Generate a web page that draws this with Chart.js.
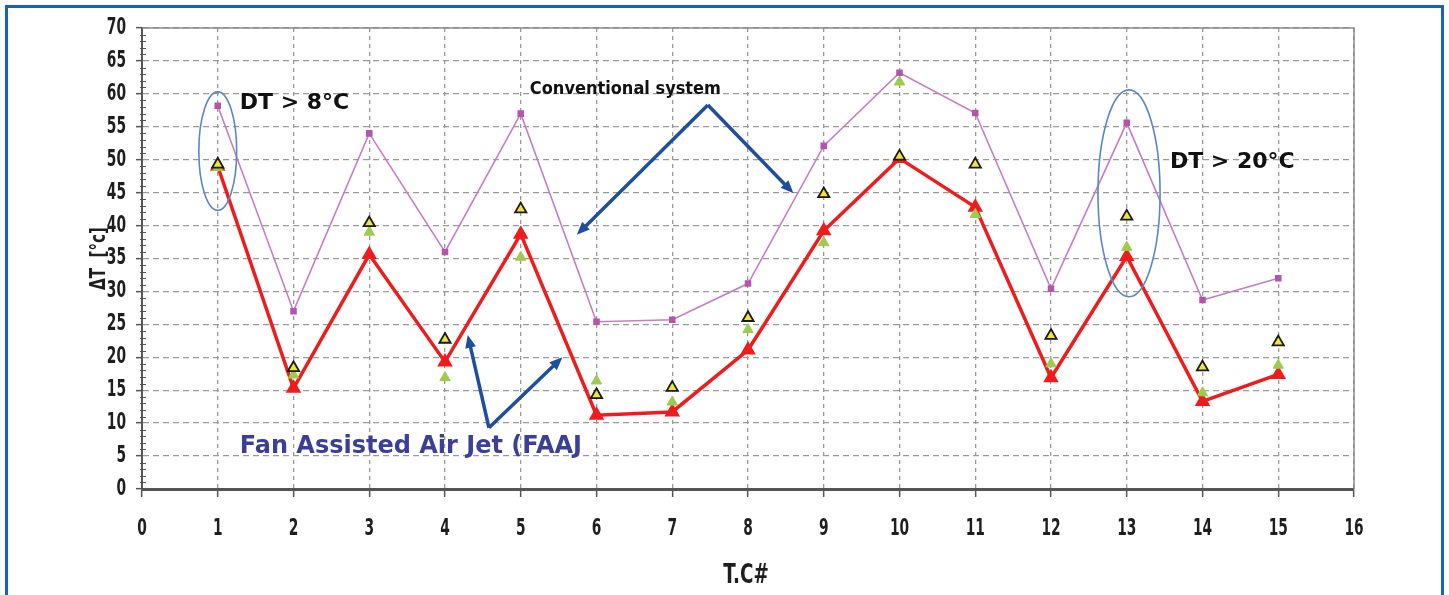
<!DOCTYPE html>
<html>
<head>
<meta charset="utf-8">
<script src="https://cdn.jsdelivr.net/npm/chart.js@4.4.0/dist/chart.umd.min.js"></script>
<style>
body { margin: 0; background: #fff; }
#wrap { position: relative; width: 1449px; height: 595px; overflow: hidden; }
#frame { position: absolute; left: 5px; top: 5px; width: 1433px; height: 620px; border: 3px solid #1a63b5; pointer-events: none; }
</style>
</head>
<body>
<div id="wrap">
  <canvas id="myChart" width="1449" height="595"></canvas>
  <div id="frame"></div>
</div>
<script>
// thermocouple numbers
const tc_labels = [1, 2, 3, 4, 5, 6, 7, 8, 9, 10, 11, 12, 13, 14, 15];
// conventional system (pink)
const conventional = [58.2, 27.0, 54.0, 36.0, 57.0, 25.4, 25.7, 31.2, 52.1, 63.2, 57.1, 30.4, 55.6, 28.7, 32.0];
// fan assisted air jet (red)
const faaj = [49.0, 15.3, 35.6, 19.3, 38.7, 11.2, 11.7, 21.1, 39.2, 50.2, 42.8, 16.9, 35.3, 13.3, 17.4];
// extra marker series (yellow / green triangles)
const yellow_tri = [49.3, 18.4, 40.4, 22.7, 42.5, 14.3, 15.4, 26.0, 44.8, 50.5, 49.3, 23.3, 41.4, 18.5, 22.3];
const green_tri = [48.8, 17.3, 39.0, 16.9, 35.2, 16.4, 13.2, 24.2, 37.4, 61.8, 41.7, 19.0, 36.7, 14.6, 18.8];
const y_ticks_max = 70;
const x_ticks_max = 16;
const x_title = 'T.C#';
const y_title = 'ΔT  [°c]';

function to_points(arr) {
    let out = Array();
    arr.forEach((v, i) => { out.push({x: tc_labels[i], y: v}); });
    return out;
}

// annotations in data coordinates
const ellipses = [
    {cx: 1.0, cy: 51.3, rx: 0.25, ry: 9.0},
    {cx: 13.03, cy: 44.9, rx: 0.41, ry: 15.7}
];
const arrows = [
    {from: [7.47, 58.3], to: [5.74, 38.6]},
    {from: [7.47, 58.3], to: [8.6, 44.9]},
    {from: [4.58, 9.3], to: [4.3, 23.4]},
    {from: [4.58, 9.3], to: [5.55, 20.0]}
];
const notes = [
    {text: 'DT > 8°C', x: 1.29, y: 58.6, font: 'bold 22px "DejaVu Sans"', color: '#111'},
    {text: 'Conventional system', x: 5.12, y: 60.7, font: 'bold 18px "DejaVu Sans Condensed"', color: '#111'},
    {text: 'Fan Assisted Air Jet (FAAJ', x: 1.29, y: 6.4, font: 'bold 24px "DejaVu Sans"', color: '#3b3f98'},
    {text: 'DT > 20°C', x: 13.57, y: 49.6, font: 'bold 22px "DejaVu Sans"', color: '#111'}
];

// condensed text: draw with horizontal squeeze
function squeezed(ctx, text, x, y, sx, align, rot) {
    ctx.save();
    ctx.translate(x, y);
    if (rot) ctx.rotate(rot);
    ctx.scale(sx, 1);
    ctx.textAlign = align;
    ctx.textBaseline = 'middle';
    ctx.fillText(text, 0, 0);
    ctx.restore();
}

const extrasPlugin = {
    id: 'extras',
    beforeDatasetsDraw(chart) {
        const ctx = chart.ctx;
        const a = chart.chartArea;
        const ys = chart.scales.y;
        ctx.save();
        // top and right frame of plot
        ctx.strokeStyle = '#8a8a8a';
        ctx.lineWidth = 1.5;
        ctx.beginPath();
        ctx.moveTo(a.left, a.top);
        ctx.lineTo(a.right, a.top);
        ctx.lineTo(a.right, a.bottom);
        ctx.stroke();
        // minor ticks on y axis
        ctx.strokeStyle = '#555';
        ctx.lineWidth = 1;
        for (let v = 0; v <= y_ticks_max; v++) {
            if (v % 5 === 0) continue;
            let py = Math.round(ys.getPixelForValue(v)) + 0.5;
            ctx.beginPath();
            ctx.moveTo(a.left - 2, py);
            ctx.lineTo(a.left + 4, py);
            ctx.stroke();
        }
        ctx.restore();
    },
    afterDatasetsDraw(chart) {
        const ctx = chart.ctx;
        const xs = chart.scales.x, ys = chart.scales.y;
        const a = chart.chartArea;
        ctx.save();
        // ellipses
        ctx.strokeStyle = '#5b87c5';
        ctx.lineWidth = 1.6;
        ellipses.forEach(e => {
            let cx = xs.getPixelForValue(e.cx), cy = ys.getPixelForValue(e.cy);
            let rx = xs.getPixelForValue(e.cx + e.rx) - cx;
            let ry = cy - ys.getPixelForValue(e.cy + e.ry);
            ctx.beginPath();
            ctx.ellipse(cx, cy, rx, ry, 0, 0, Math.PI * 2);
            ctx.stroke();
        });
        // arrows
        ctx.strokeStyle = '#1f4e9e';
        ctx.fillStyle = '#1f4e9e';
        ctx.lineWidth = 3.5;
        arrows.forEach(ar => {
            let x1 = xs.getPixelForValue(ar.from[0]), y1 = ys.getPixelForValue(ar.from[1]);
            let x2 = xs.getPixelForValue(ar.to[0]), y2 = ys.getPixelForValue(ar.to[1]);
            let ang = Math.atan2(y2 - y1, x2 - x1);
            let hl = 14;
            ctx.beginPath();
            ctx.moveTo(x1, y1);
            ctx.lineTo(x2 - Math.cos(ang) * hl * 0.7, y2 - Math.sin(ang) * hl * 0.7);
            ctx.stroke();
            ctx.beginPath();
            ctx.moveTo(x2, y2);
            ctx.lineTo(x2 - hl * Math.cos(ang - 0.4), y2 - hl * Math.sin(ang - 0.4));
            ctx.lineTo(x2 - hl * Math.cos(ang + 0.4), y2 - hl * Math.sin(ang + 0.4));
            ctx.closePath();
            ctx.fill();
        });
        // text notes
        ctx.textBaseline = 'middle';
        ctx.textAlign = 'left';
        notes.forEach(n => {
            ctx.font = n.font;
            ctx.fillStyle = n.color;
            ctx.fillText(n.text, xs.getPixelForValue(n.x), ys.getPixelForValue(n.y));
        });

        // axis labels, condensed like the original
        ctx.fillStyle = '#1e1e1e';
        ctx.font = 'bold 23px "DejaVu Sans"';
        ys.ticks.forEach(t => {
            squeezed(ctx, String(t.value), a.left - 16, ys.getPixelForValue(t.value), 0.6, 'right');
        });
        xs.ticks.forEach(t => {
            squeezed(ctx, String(t.value), xs.getPixelForValue(t.value), 529, 0.6, 'center');
        });
        ctx.font = 'bold 27px "DejaVu Sans"';
        squeezed(ctx, x_title, (a.left + a.right) / 2 - 2, 576, 0.68, 'center');
        ctx.font = 'bold 21px "DejaVu Sans"';
        squeezed(ctx, y_title, 100, (a.top + a.bottom) / 2, 0.72, 'center', -Math.PI / 2);
        ctx.restore();
    }
};

let ctx = document.getElementById('myChart').getContext('2d');
let wykres = new Chart(ctx, {
    type: 'line',
    data: {
        datasets: [
            {
                label: 'yellow',
                data: to_points(yellow_tri),
                showLine: false,
                pointStyle: 'triangle',
                pointRadius: 6.5,
                pointBackgroundColor: '#f2e23a',
                pointBorderColor: '#1a1a1a',
                pointBorderWidth: 1.8
            },
            {
                label: 'green',
                data: to_points(green_tri),
                showLine: false,
                pointStyle: 'triangle',
                pointRadius: 6,
                pointBackgroundColor: '#9ccc4c',
                pointBorderColor: '#9ccc4c',
                pointBorderWidth: 1
            },
            {
                label: 'Fan Assisted Air Jet (FAAJ)',
                data: to_points(faaj),
                borderColor: '#ee1c1c',
                borderWidth: 3.5,
                pointStyle: 'triangle',
                pointRadius: 5.5,
                pointBackgroundColor: '#ee1c1c',
                pointBorderColor: '#ee1c1c',
                tension: 0
            },
            {
                label: 'Conventional system',
                data: to_points(conventional),
                borderColor: '#c77dc4',
                borderWidth: 1.6,
                pointStyle: 'rect',
                pointRadius: 3.5,
                pointBackgroundColor: '#b256ab',
                pointBorderColor: '#b256ab',
                tension: 0
            }
        ]
    },
    options: {
        responsive: false,
        animation: false,
        layout: { padding: {top: 28, right: 95, left: 0, bottom: 0} },
        plugins: { legend: {display: false}, tooltip: {enabled: false} },
        scales: {
            x: {
                type: 'linear',
                min: 0,
                max: x_ticks_max,
                afterFit: (s) => { s.height = 106; s.paddingLeft = 0; s.paddingRight = 0; },
                ticks: { stepSize: 1, display: false },
                grid: { color: '#9a9a9a', lineWidth: 1.3, tickLength: 8, tickColor: '#555', tickBorderDash: [], tickWidth: 1.5 },
                border: { color: '#555', width: 3, dash: [4, 4] }
            },
            y: {
                min: 0,
                max: y_ticks_max,
                afterFit: (s) => { s.width = 142; s.paddingTop = 0; s.paddingBottom = 0; },
                ticks: { stepSize: 5, display: false },
                grid: { color: '#9a9a9a', lineWidth: 1.3, tickLength: 6, tickColor: '#555', tickBorderDash: [], tickWidth: 1.5 },
                border: { color: '#555', width: 2, dash: [6, 4] }
            }
        }
    },
    plugins: [extrasPlugin]
});
</script>
</body>
</html>
